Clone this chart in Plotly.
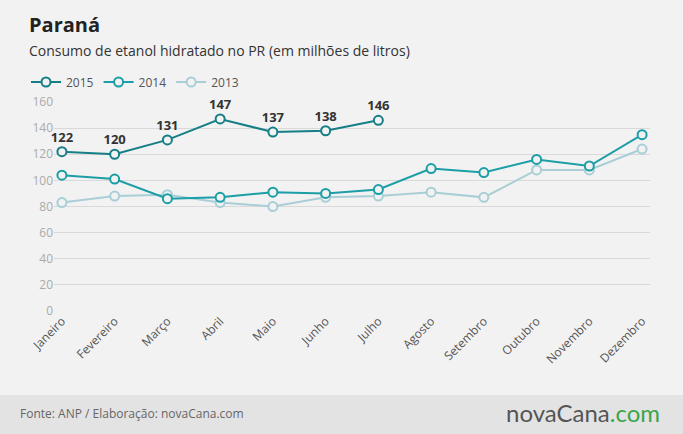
import plotly.graph_objects as go

months = ["Janeiro","Fevereiro","Março","Abril","Maio","Junho","Julho","Agosto","Setembro","Outubro","Novembro","Dezembro"]
v2015 = [122,120,131,147,137,138,146]
v2014 = [104,101,86,87,91,90,93,109,106,116,111,135]
v2013 = [83,88,89,83,80,87,88,91,87,108,108,124]

W, H = 596, 209
def px(x): return (x - 54) / W
def py(y): return (311 - y) / H

fig = go.Figure()
fig.add_trace(go.Scatter(x=months, y=v2013, name="2013", mode="lines+markers",
    line=dict(color="#a9cfd6", width=2), marker=dict(size=9, color="#f2f2f2", line=dict(color="#a9cfd6", width=2))))
fig.add_trace(go.Scatter(x=months, y=v2014, name="2014", mode="lines+markers",
    line=dict(color="#1b9ea6", width=2), marker=dict(size=9, color="#f2f2f2", line=dict(color="#1b9ea6", width=2))))
fig.add_trace(go.Scatter(x=months[:7], y=v2015, name="2015", mode="lines+markers+text", cliponaxis=False,
    text=["<b>%d</b>" % v for v in v2015], textposition="top center", textfont=dict(size=13, color="#333", family="Open Sans"),
    line=dict(color="#167e86", width=2), marker=dict(size=9, color="#f2f2f2", line=dict(color="#167e86", width=2))))

fig.update_layout(
    width=683, height=434, paper_bgcolor="#f2f2f2", plot_bgcolor="#f2f2f2",
    margin=dict(l=54, r=33, t=102, b=123, autoexpand=False),
    font=dict(family="Open Sans", color="#666"),
    showlegend=True, legend=dict(orientation="h", x=px(26), xanchor="left", y=py(82), yanchor="middle",
        traceorder="reversed", font=dict(size=12, color="#555"), bgcolor="rgba(0,0,0,0)"),
    xaxis=dict(type="category", range=[-0.15, 11.15], tickangle=-45, tickfont=dict(size=12, color="#555"),
        showgrid=False, showline=False, ticks="", automargin=False),
    yaxis=dict(range=[0, 160], dtick=20, gridcolor="#d9d9d9", zeroline=False, tickfont=dict(size=12, color="#aaa"), automargin=False),
    shapes=[dict(type="rect", xref="paper", yref="paper", x0=px(0), x1=px(683), y0=py(434), y1=py(395),
                 fillcolor="#e3e3e3", line_width=0, layer="below")],
    annotations=[
        dict(text="<b>Paraná</b>", xref="paper", yref="paper", x=px(27), y=py(24), xanchor="left", yanchor="middle",
             showarrow=False, font=dict(size=20, color="#222")),
        dict(text="Consumo de etanol hidratado no PR (em milhões de litros)", xref="paper", yref="paper", x=px(27), y=py(51),
             xanchor="left", yanchor="middle", showarrow=False, font=dict(size=14, color="#333")),
        dict(text="Fonte: ANP / Elaboração: novaCana.com", xref="paper", yref="paper", x=px(18), y=py(413),
             xanchor="left", yanchor="middle", showarrow=False, font=dict(size=12, color="#666")),
        dict(text="<span style='color:#555'>novaCana</span><span style='color:#3aa64a'>.com</span>", xref="paper", yref="paper",
             x=px(662), y=py(412), xanchor="right", yanchor="middle", showarrow=False, font=dict(size=24, family="Lato")),
    ],
)
fig.write_html("out.html", config={"displayModeBar": False},
               post_script="document.body.style.margin='0';document.body.style.background='#f2f2f2';")
